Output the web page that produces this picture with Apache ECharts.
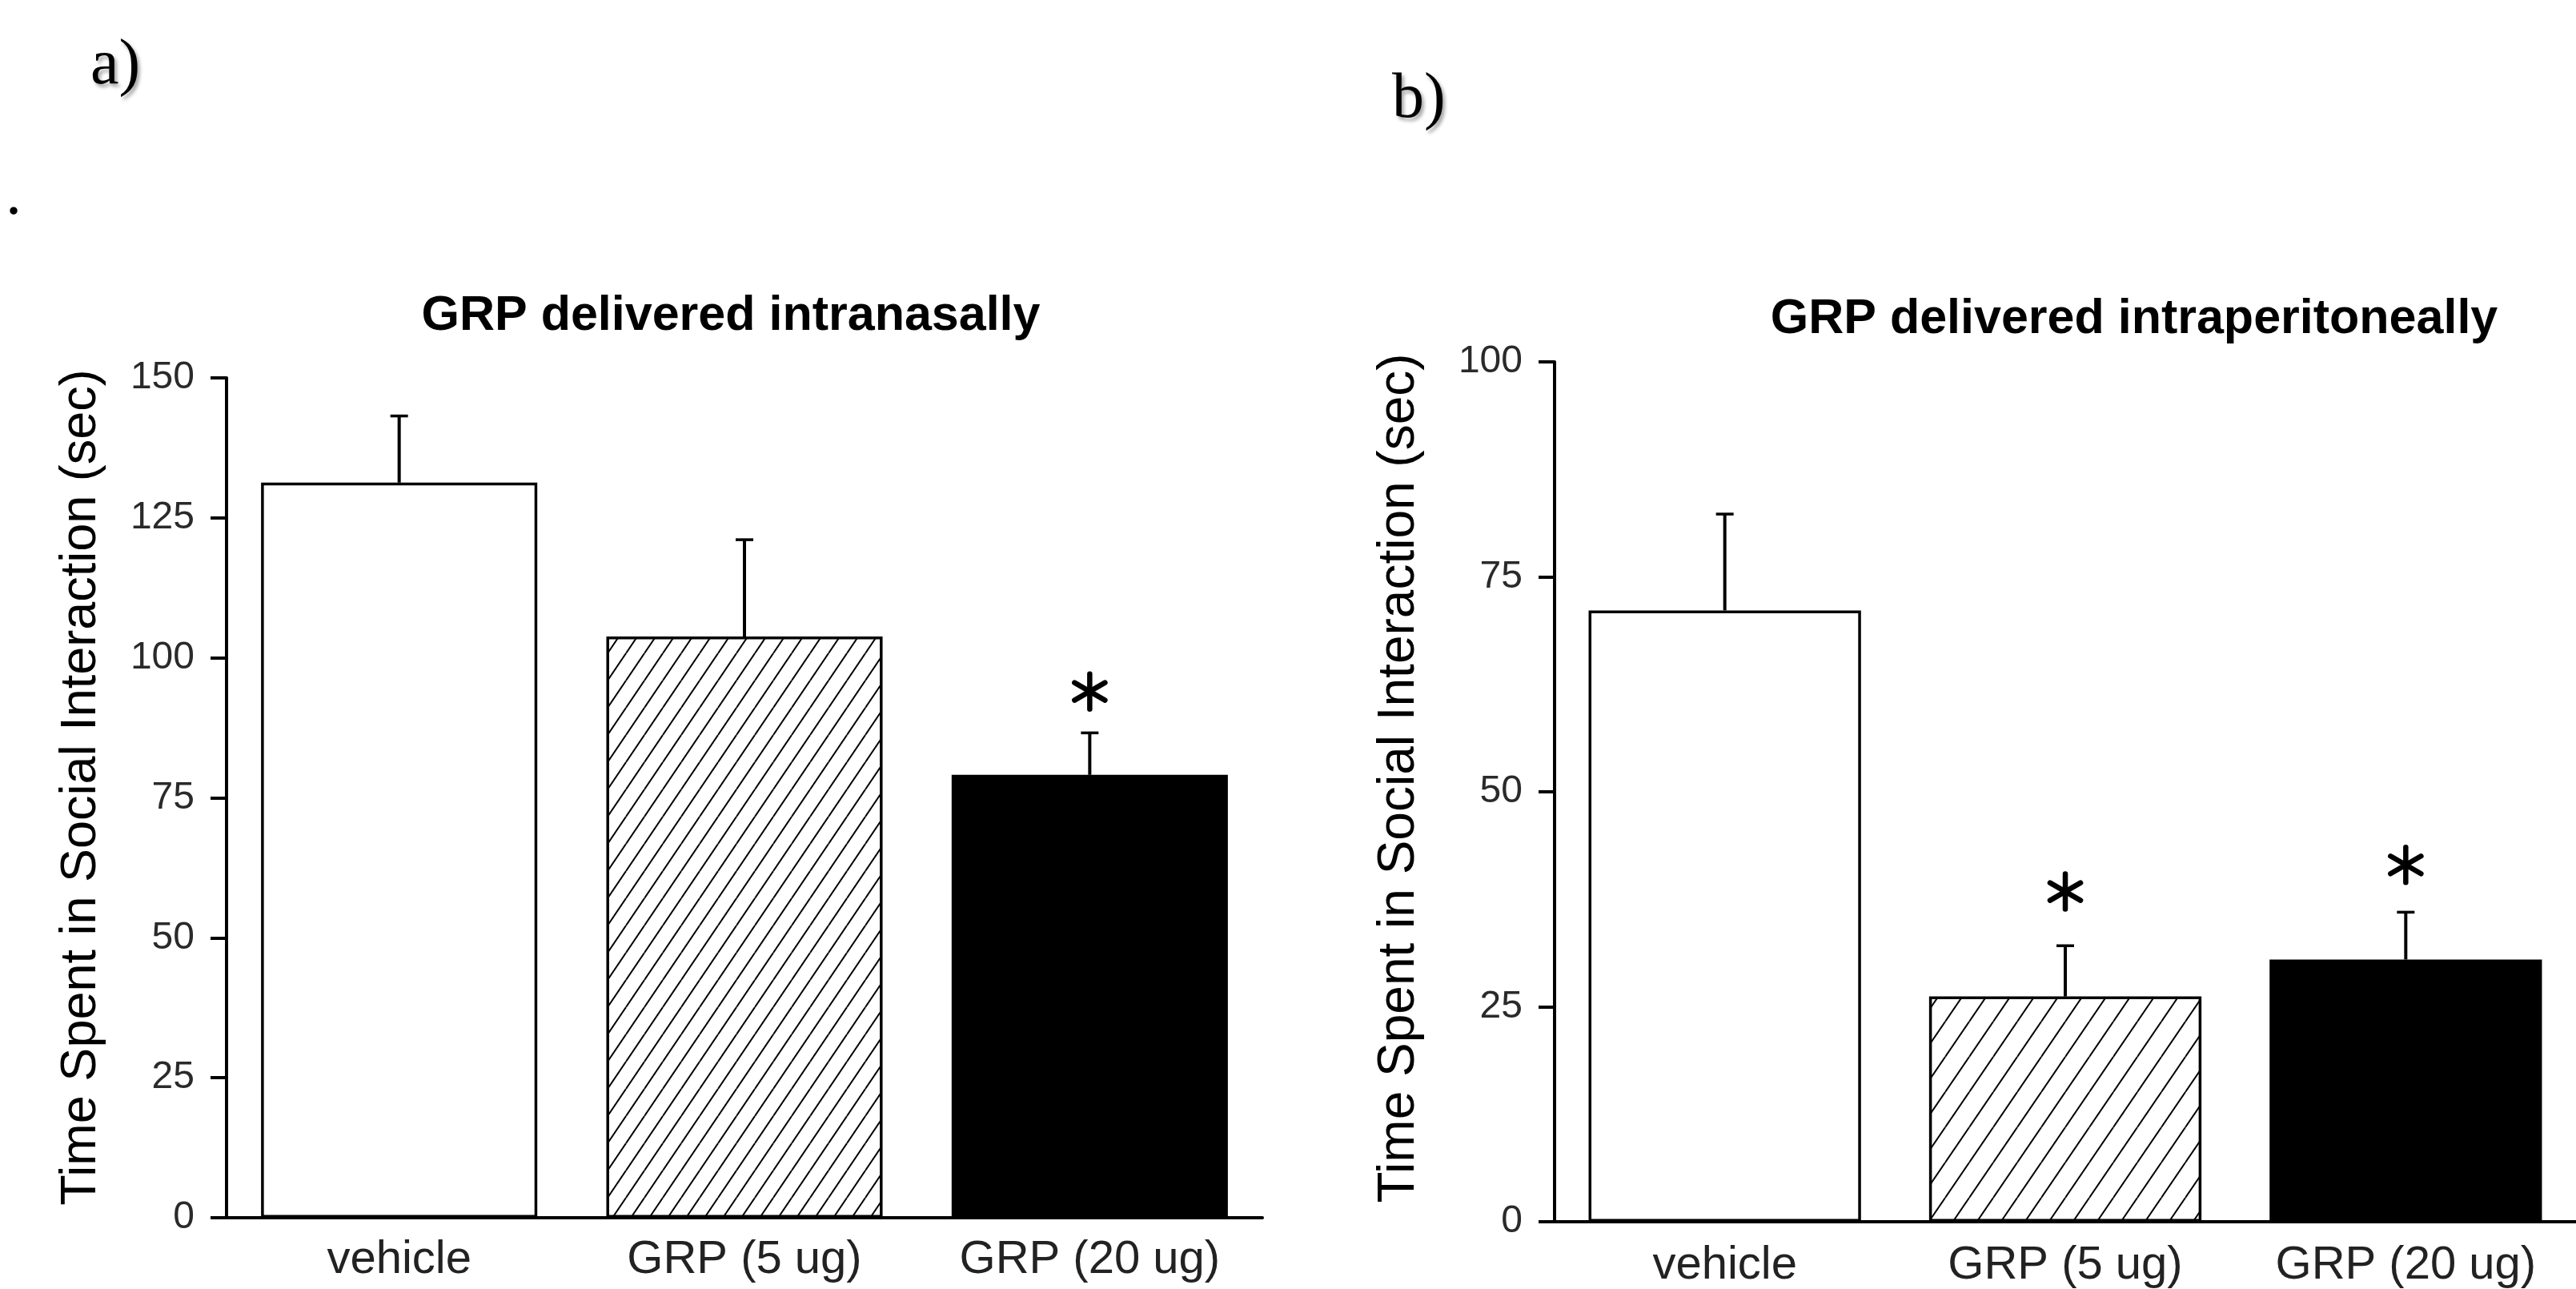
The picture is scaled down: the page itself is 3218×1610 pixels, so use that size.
<!DOCTYPE html>
<html>
<head>
<meta charset="utf-8">
<script src="https://cdn.jsdelivr.net/npm/echarts@6/dist/echarts.min.js"></script>
<style>
html, body { margin: 0; padding: 0; background: #fff; }
#main { width: 3218px; height: 1610px; }
</style>
</head>
<body>
<div id="main"></div>
<script>
// groups on the x axis (same for both panels)
var categories = ['vehicle', 'GRP (5 ug)', 'GRP (20 ug)'];

// panel a: intranasal
var nasalMean = [131.3, 103.8, 79.1];
var nasalSem = [11.9, 17.3, 7.5];
var nasalStar = ['-', '-', 94];          // where the * sits, '-' = none
var nasalTicks = { max: 150, step: 25 };

// panel b: intraperitoneal
var periMean = [71.1, 26.2, 30.5];
var periSem = [11.2, 5.9, 5.5];
var periStar = ['-', 38.4, 41.5];
var periTicks = { max: 100, step: 25 };

var sans = "'Liberation Sans', Arial, sans-serif";
var serif = "'Liberation Serif', 'Times New Roman', serif";

// diagonal "/" hatch tile
function hatch(w, h) {
    var c = document.createElement('canvas');
    c.width = w;
    c.height = h;
    var g = c.getContext('2d');
    g.fillStyle = '#fff';
    g.fillRect(0, 0, w, h);
    g.strokeStyle = '#000';
    g.lineWidth = 2;
    [-w, 0, w].forEach(function (dx) {
        g.beginPath();
        g.moveTo(dx, h);
        g.lineTo(dx + w, 0);
        g.stroke();
    });
    return c;
}

function barData(means, hatchTile) {
    var fills = ['#fff', { image: hatchTile, repeat: 'repeat' }, '#000'];
    return means.map(function (v, i) {
        return {
            value: v,
            itemStyle: { color: fills[i], borderColor: '#000', borderWidth: 3.5 }
        };
    });
}

function errData(means, sems, stars) {
    return means.map(function (v, i) {
        return [i, v, sems[i], stars[i]];
    });
}

function renderErr(params, api) {
    var i = api.value(0);
    var m = api.value(1);
    var e = api.value(2);
    var base = api.coord([i, m]);
    var top = api.coord([i, m + e]);
    var cw = 11;
    var kids = [
        { type: 'line', shape: { x1: base[0], y1: base[1], x2: top[0], y2: top[1] },
          style: { stroke: '#000', lineWidth: 4 } },
        { type: 'line', shape: { x1: top[0] - cw, y1: top[1], x2: top[0] + cw, y2: top[1] },
          style: { stroke: '#000', lineWidth: 3.5 } }
    ];
    var s = api.value(3);
    if (!isNaN(s)) {
        var c = api.coord([i, s]);
        var r = 22;
        [90, 30, -30].forEach(function (deg) {
            var a = deg * Math.PI / 180;
            var dx = r * Math.cos(a), dy = r * Math.sin(a);
            kids.push({ type: 'line',
                shape: { x1: c[0] - dx, y1: c[1] - dy, x2: c[0] + dx, y2: c[1] + dy },
                style: { stroke: '#000', lineWidth: 6.5, lineCap: 'round' } });
        });
    }
    return { type: 'group', children: kids };
}

function yAxisFor(idx, ticks, nameGap, nameSize, namePad) {
    return {
        type: 'value',
        gridIndex: idx,
        min: 0,
        max: ticks.max,
        interval: ticks.step,
        name: 'Time Spent in Social Interaction (sec)',
        nameLocation: 'middle',
        nameRotate: 90,
        nameGap: nameGap,
        nameTextStyle: { fontFamily: sans, fontSize: nameSize, color: '#000', padding: [0, 0, 0, namePad] },
        axisLine: { show: true, lineStyle: { color: '#000', width: 4 } },
        axisTick: { show: true, inside: false, length: 20, lineStyle: { color: '#000', width: 4 } },
        axisLabel: { margin: 40, fontFamily: sans, fontSize: 48, color: '#2a2a2a' },
        splitLine: { show: false }
    };
}

function xAxisFor(idx, margin) {
    return {
        type: 'category',
        gridIndex: idx,
        data: categories,
        axisLine: { show: true, lineStyle: { color: '#000', width: 4 } },
        axisTick: { show: false },
        axisLabel: { margin: margin, fontFamily: sans, fontSize: 58, color: '#222' },
        splitLine: { show: false }
    };
}

var myChart = echarts.init(document.getElementById('main'));
option = {
    animation: false,
    backgroundColor: '#fff',
    grid: [
        { left: 283, top: 472, width: 1294, height: 1049 },
        { left: 1942, top: 452, width: 1338, height: 1081 }
    ],
    xAxis: [xAxisFor(0, 24), xAxisFor(1, 26)],
    yAxis: [
        yAxisFor(0, nasalTicks, 150, 63, 26),
        yAxisFor(1, periTicks, 162, 64, 34)
    ],
    graphic: [
        { type: 'text', x: 113, y: 43, style: { text: 'a)', font: '80px ' + serif, fill: '#000',
          textShadowColor: 'rgba(0,0,0,0.35)', textShadowBlur: 4, textShadowOffsetX: 3, textShadowOffsetY: 4 } },
        { type: 'text', x: 1739, y: 85, style: { text: 'b)', font: '80px ' + serif, fill: '#000',
          textShadowColor: 'rgba(0,0,0,0.35)', textShadowBlur: 4, textShadowOffsetX: 3, textShadowOffsetY: 4 } },
        { type: 'text', x: 7, y: 206, style: { text: '.', font: '80px ' + serif, fill: '#000' } },
        { type: 'text', x: 913, y: 365, style: { text: 'GRP delivered intranasally',
          font: 'bold 61px ' + sans, fill: '#000', align: 'center' } },
        { type: 'text', x: 2666, y: 369, style: { text: 'GRP delivered intraperitoneally',
          font: 'bold 61px ' + sans, fill: '#000', align: 'center' } }
    ],
    series: [
        {
            name: 'intranasal',
            type: 'bar',
            xAxisIndex: 0,
            yAxisIndex: 0,
            barWidth: '80%',
            data: barData(nasalMean, hatch(23, 34))
        },
        {
            name: 'intranasal sem',
            type: 'custom',
            xAxisIndex: 0,
            yAxisIndex: 0,
            renderItem: renderErr,
            data: errData(nasalMean, nasalSem, nasalStar),
            z: 3
        },
        {
            name: 'intraperitoneal',
            type: 'bar',
            xAxisIndex: 1,
            yAxisIndex: 1,
            barWidth: '80%',
            data: barData(periMean, hatch(30, 44))
        },
        {
            name: 'intraperitoneal sem',
            type: 'custom',
            xAxisIndex: 1,
            yAxisIndex: 1,
            renderItem: renderErr,
            data: errData(periMean, periSem, periStar),
            z: 3
        }
    ]
};
myChart.setOption(option);
</script>
</body>
</html>
